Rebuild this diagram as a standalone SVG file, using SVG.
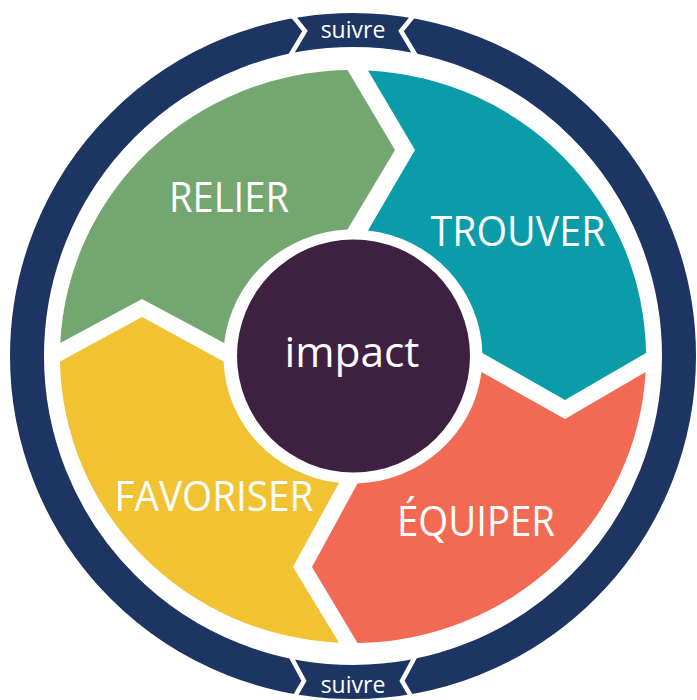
<svg xmlns="http://www.w3.org/2000/svg" width="697" height="700" viewBox="0 0 697 700">
  <style>
    .lbl { font-family: "Open Sans", "Noto Sans", "Liberation Sans", sans-serif; fill: #ffffff; text-anchor: middle; }
    .big { font-size: 42px; }
    .small { font-size: 23px; }
    .cut { fill: none; stroke: #ffffff; stroke-width: 4.5; stroke-linejoin: miter; }
  </style>
  <rect x="0" y="0" width="697" height="700" fill="#ffffff"/>

  <g id="ring">
    <circle cx="353" cy="356" r="326" fill="none" stroke="#1c3563" stroke-width="34"/>
    <polyline class="cut" points="289.5,12 305,31 290,56"/>
    <polyline class="cut" points="416.5,12 401,31 416,56"/>
    <polyline class="cut" points="290,655 304,681 291,703"/>
    <polyline class="cut" points="416,655 402,681 415,703"/>
  </g>
  <g id="suivre-top">
    <text class="lbl small" x="353" y="38">suivre</text>
  </g>
  <g id="suivre-bottom">
    <text class="lbl small" x="353" y="693">suivre</text>
  </g>

  <g id="relier">
    <path d="M60.3,343 A293,286.5 0 0 1 347.5,70 L395,150 L347.5,229.6 A129.5,127 0 0 0 224.2,343 L142,299 Z" fill="#74a76f"/>
    <text class="lbl big" x="229" y="212" textLength="120" lengthAdjust="spacingAndGlyphs">RELIER</text>
  </g>
  <g id="trouver">
    <path d="M368,70.4 A293,286.5 0 0 1 646,353 L565,400 L482.4,353 A129.5,127 0 0 0 368,230.4 L415,150 Z" fill="#0a9ca9"/>
    <text class="lbl big" x="518" y="246" textLength="175" lengthAdjust="spacingAndGlyphs">TROUVER</text>
  </g>
  <g id="equiper">
    <path d="M645.6,372 A293,286.5 0 0 1 357.5,643 L312,567 L357.5,483.4 A129.5,127 0 0 0 481.5,372 L565,419 Z" fill="#f26a53"/>
    <text class="lbl big" x="476" y="536" textLength="158" lengthAdjust="spacingAndGlyphs">ÉQUIPER</text>
  </g>
  <g id="favoriser">
    <path d="M339,642.7 A293,286.5 0 0 1 60,361.5 L142,317 L223.6,361.5 A129.5,127 0 0 0 339,482.8 L293,567 Z" fill="#f1c232"/>
    <text class="lbl big" x="214" y="511" textLength="199" lengthAdjust="spacingAndGlyphs">FAVORISER</text>
  </g>
  <g id="impact">
    <circle cx="353.5" cy="356" r="116.5" fill="#3e2140"/>
    <text class="lbl big" x="352" y="367" textLength="135" lengthAdjust="spacingAndGlyphs">impact</text>
  </g>
  <g id="connectors"></g>
</svg>
